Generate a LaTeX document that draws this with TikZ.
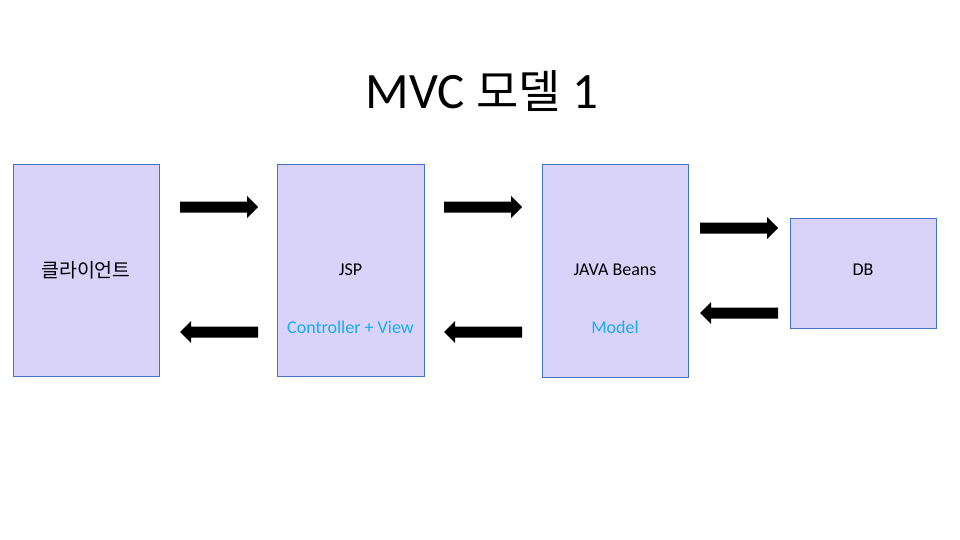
\documentclass[tikz,border=0pt]{standalone}
\usepackage{fontspec}
\setmainfont{Carlito}
\newfontfamily\kofont{Noto Sans CJK KR}
\definecolor{boxfill}{HTML}{D9D2F9}
\definecolor{boxline}{HTML}{4472C4}
\definecolor{bluetext}{HTML}{1AACF0}
\begin{document}
\begin{tikzpicture}[x=1pt,y=-1pt,
  blk/.style={draw=boxline,fill=boxfill,line width=0.9pt,rectangle,inner sep=0pt},
  lbl/.style={font=\fontsize{18}{22}\selectfont,text=black,inner sep=0pt},
  blbl/.style={lbl,text=bluetext},
  rarr/.pic={\fill[black] (0,-5.5)--(67,-5.5)--(67,-11)--(78,0)--(67,11)--(67,5.5)--(0,5.5)--cycle;},
  larr/.pic={\fill[black] (78,-5.5)--(11,-5.5)--(11,-11)--(0,0)--(11,11)--(11,5.5)--(78,5.5)--cycle;}
]
\useasboundingbox (0,0) rectangle (960,540);
\node[inner sep=0pt,font=\fontsize{51}{58}\selectfont] (title) at (482,91) {MVC {\kofont\fontsize{46}{54}\selectfont 모델} 1};
\node[blk,minimum width=146pt,minimum height=212pt] (client) at (86,270) {};
\node[blk,minimum width=147pt,minimum height=212pt] (jsp) at (350.5,270) {};
\node[blk,minimum width=146pt,minimum height=213pt] (beans) at (615,270.5) {};
\node[blk,minimum width=146pt,minimum height=110pt] (db) at (863,273) {};
\node[lbl,font=\kofont\fontsize{19.5}{22}\selectfont] (clientl) at (86,270) {클라이언트};
\node[lbl] (jspl) at (350.5,270) {JSP};
\node[blbl] (jspr) at (350.5,327) {Controller + View};
\node[lbl] (beansl) at (615,270) {JAVA Beans};
\node[blbl] (beansr) at (615,327) {Model};
\node[lbl] (dbl) at (863,270) {DB};
\pic at (180,207) {rarr};
\pic at (444,207) {rarr};
\pic at (180,332) {larr};
\pic at (444,332) {larr};
\pic at (700,228) {rarr};
\pic at (700,313) {larr};
\end{tikzpicture}
\end{document}
